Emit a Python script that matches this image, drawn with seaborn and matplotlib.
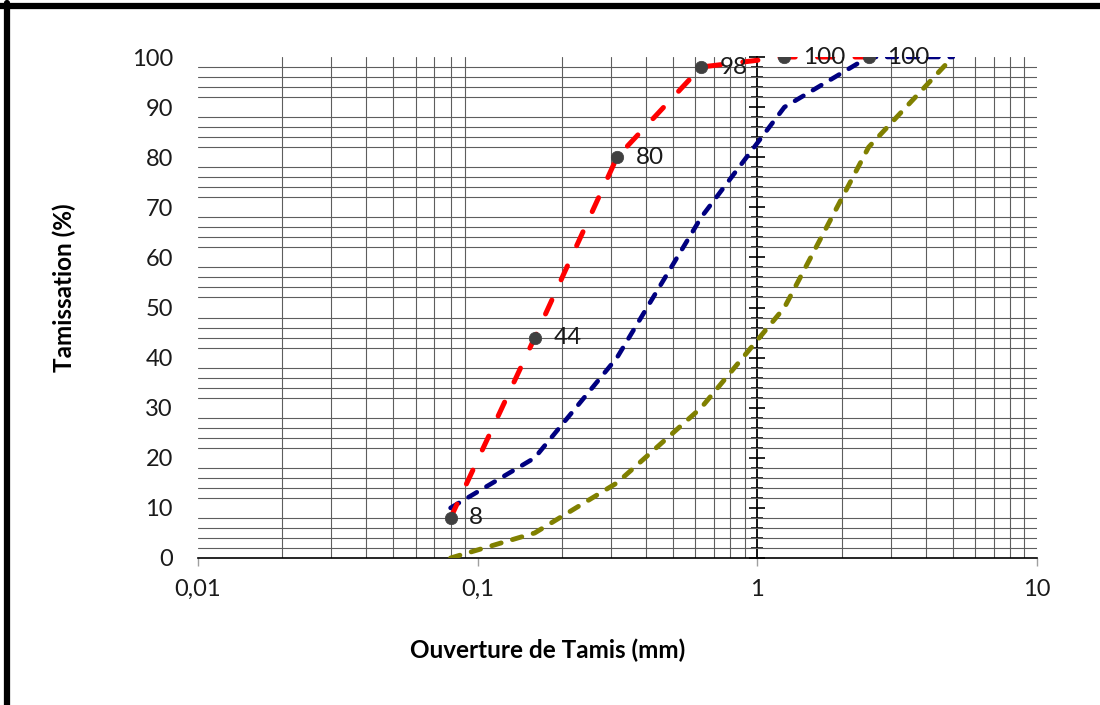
import numpy as np
import pandas as pd
import matplotlib
matplotlib.use("Agg")
import matplotlib.pyplot as plt
import seaborn as sns
from matplotlib.lines import Line2D
from matplotlib.ticker import FixedLocator, NullFormatter, FixedFormatter

# ---- data ----
sieve_sample = [0.08, 0.16, 0.315, 0.63, 1.25, 2.5]
passing_sample = [8, 44, 80, 98, 100, 100]
sieve_limits = [0.08, 0.16, 0.315, 0.63, 1.25, 2.5, 5]
upper_limit = [10, 20, 40, 68, 90, 100, 100]
lower_limit = [0, 5, 15, 30, 50, 82, 100]
x_ticks = [0.01, 0.1, 1, 10]
x_tick_labels = ["0,01", "0,1", "1", "10"]
y_ticks = list(range(0, 101, 10))

sns.set_theme(style="white")
plt.rcParams["font.family"] = ["Lato", "DejaVu Sans"]
plt.rcParams["lines.scale_dashes"] = False

fig = plt.figure(figsize=(11, 7.05), dpi=100)
ax = fig.add_axes([198 / 1100, 1 - 558 / 705, (1037 - 198) / 1100, (558 - 57) / 705])

df_up = pd.DataFrame({"x": sieve_limits, "y": upper_limit})
df_lo = pd.DataFrame({"x": sieve_limits, "y": lower_limit})
df_s = pd.DataFrame({"x": sieve_sample, "y": passing_sample})

sns.lineplot(data=df_up, x="x", y="y", ax=ax, color="#000080", lw=3.3,
             zorder=3, estimator=None, sort=False)
sns.lineplot(data=df_lo, x="x", y="y", ax=ax, color="#808000", lw=3.5,
             zorder=3, estimator=None, sort=False)
sns.lineplot(data=df_s, x="x", y="y", ax=ax, color="#FF0000", lw=3.6,
             zorder=4, estimator=None, sort=False)
lines = ax.get_lines()
lines[0].set_dashes([7, 8])
lines[1].set_dashes([7, 8.5])
lines[2].set_dashes([11, 16])
for ln in lines:
    ln.set_dash_capstyle("round")

sns.scatterplot(data=df_s, x="x", y="y", ax=ax, color="#404040", s=80,
                edgecolor="#404040", linewidth=0.5, zorder=5)
for xv, yv in zip(sieve_sample, passing_sample):
    ax.annotate(str(yv), xy=(xv, yv), xytext=(13.5, 0), textcoords="offset points",
                ha="left", va="center", fontsize=17.5, color="#1a1a1a", zorder=6)

ax.set_xscale("log")
ax.set_xlim(0.01, 10)
ax.set_ylim(0, 100)

# major ticks / labels
ax.xaxis.set_major_locator(FixedLocator(x_ticks))
ax.xaxis.set_major_formatter(FixedFormatter(x_tick_labels))
minor_x = [m * d for d in (0.01, 0.1, 1) for m in range(2, 10)] + [0.1, 1]
ax.xaxis.set_minor_locator(FixedLocator(sorted(minor_x)))
ax.xaxis.set_minor_formatter(NullFormatter())
ax.yaxis.set_major_locator(FixedLocator(y_ticks))
ax.yaxis.set_minor_locator(FixedLocator(list(range(2, 100, 2))))
ax.yaxis.set_minor_formatter(NullFormatter())

ax.grid(False, which="major")
ax.grid(True, which="minor", color="#5e5e5e", lw=0.8)
ax.tick_params(axis="x", which="major", bottom=True, length=6, width=1,
               color="#a0a0a0", labelsize=17, pad=9, labelcolor="#1a1a1a")
ax.tick_params(axis="x", which="minor", length=0)
ax.tick_params(axis="y", which="both", left=False, length=0)
ax.tick_params(axis="y", which="major", labelsize=17, pad=18, labelcolor="#1a1a1a")

for s in ("left", "top", "right"):
    ax.spines[s].set_visible(False)
ax.spines["bottom"].set_color("black")
ax.spines["bottom"].set_linewidth(1.2)

ax.set_xlabel("Ouverture de Tamis (mm)", fontsize=17.5, fontweight="bold", color="black")
ax.set_ylabel("Tamissation (%)", fontsize=17.5, fontweight="bold", color="black")
ax.xaxis.set_label_coords((548 - 198) / 839, -(650 - 558) / 501)
ax.xaxis.label.set_va("center")
ax.yaxis.set_label_coords(-(198 - 64) / 839, (558 - 288) / 501)
ax.yaxis.label.set_va("center")

# vertical axis crossing at x = 1
ax2 = ax.twinx()
ax2.set_ylim(0, 100)
for s in ("top", "right", "bottom"):
    ax2.spines[s].set_visible(False)
ax2.spines["left"].set_visible(True)
ax2.spines["left"].set_position(("data", 1))
ax2.spines["left"].set_color("black")
ax2.spines["left"].set_linewidth(1.3)
ax2.yaxis.set_ticks_position("left")
ax2.yaxis.set_major_locator(FixedLocator(y_ticks))
ax2.yaxis.set_minor_locator(FixedLocator(list(range(2, 100, 2))))
ax2.tick_params(axis="y", which="major", direction="inout", length=11, width=1.2,
                color="black", labelleft=False, labelright=False)
ax2.tick_params(axis="y", which="minor", direction="inout", length=8, width=1.1,
                color="black", labelleft=False, labelright=False)
ax2.set_zorder(ax.get_zorder() - 1)
ax.patch.set_visible(False)

# outer frame (top and left)
fig.add_artist(Line2D([0, 1], [1 - 5.5 / 705, 1 - 5.5 / 705], color="black", lw=4.5,
                      transform=fig.transFigure))
fig.add_artist(Line2D([7 / 1100, 7 / 1100], [0, 1 - 3 / 705], color="black", lw=4.5,
                      transform=fig.transFigure))

fig.savefig("out.png", dpi=100)
